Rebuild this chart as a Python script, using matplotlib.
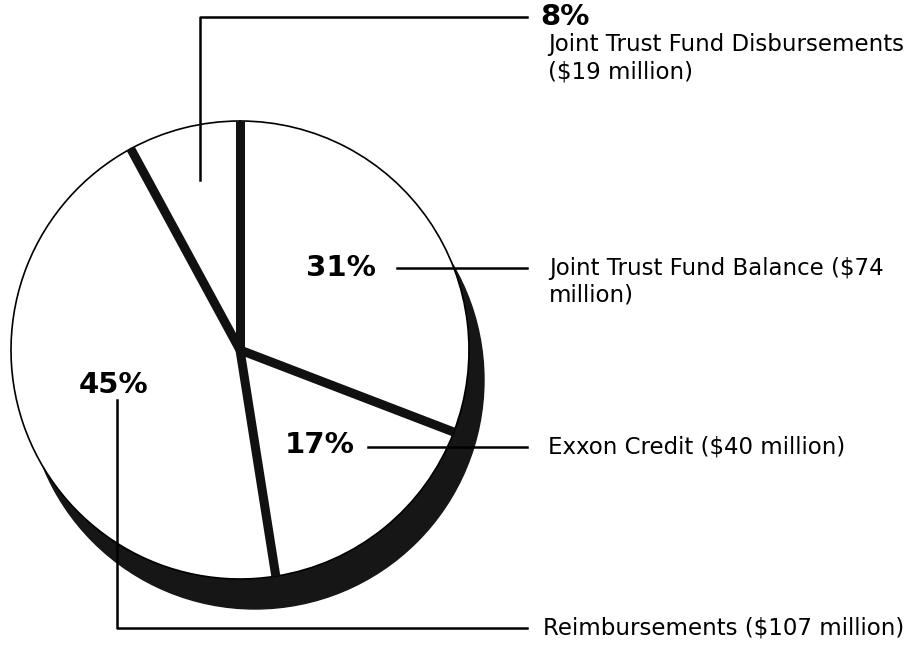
import numpy as np
import matplotlib.pyplot as plt
from matplotlib.patches import Circle

# values in $ million, in clockwise order from the top
labels = ['Joint Trust Fund Balance', 'Exxon Credit', 'Reimbursements', 'Joint Trust Fund Disbursements']
amounts = [74, 40, 107, 19]
pcts = ['31%', '17%', '45%', '8%']

H = 657
plt.rcParams['font.family'] = ['DejaVu Sans']

fig = plt.figure(figsize=(9.15, 6.57), dpi=100)
ax = fig.add_axes([0, 0, 1, 1])
ax.set_xlim(0, 915)
ax.set_ylim(0, H)
ax.set_aspect('equal')
ax.axis('off')

cx, cy, r = 240, H - 350, 229

# depth band of the tilted pie
ax.add_patch(Circle((cx + 15, cy - 30), r, facecolor='#161616', edgecolor='#161616', zorder=1))

wedges, _ = ax.pie(amounts, center=(cx, cy), radius=r, startangle=90, counterclock=False,
                   colors=['white'] * 4,
                   wedgeprops=dict(edgecolor='black', linewidth=1.2))
for w in wedges:
    w.set_zorder(2)
ax.set_xlim(0, 915)
ax.set_ylim(0, H)

# thick separators between slices
for w in wedges:
    a = np.deg2rad(w.theta1)
    ax.plot([cx, cx + r * np.cos(a)], [cy, cy + r * np.sin(a)], color='#111111',
            lw=6.5, solid_capstyle='butt', zorder=3)

pct_kw = dict(fontsize=21, fontweight='bold', zorder=5)
txt_kw = dict(fontsize=16.5, zorder=5)
line_kw = dict(color='black', lw=1.8, zorder=4)

# 8%
ax.plot([200, 200, 527], [H - 180, H - 17, H - 17], **line_kw)
ax.text(540, H - 17, pcts[3], va='center', ha='left', **pct_kw)
ax.text(548, H - 45, 'Joint Trust Fund Disbursements', va='center', ha='left', **txt_kw)
ax.text(548, H - 72, '($%d million)' % amounts[3], va='center', ha='left', **txt_kw)

# 31%
ax.text(341, H - 268, pcts[0], va='center', ha='center', **pct_kw)
ax.plot([397, 527], [H - 268, H - 268], **line_kw)
ax.text(549, H - 268, 'Joint Trust Fund Balance ($%d' % amounts[0], va='center', ha='left', **txt_kw)
ax.text(549, H - 295, 'million)', va='center', ha='left', **txt_kw)

# 17%
ax.text(320, H - 445, pcts[1], va='center', ha='center', **pct_kw)
ax.plot([368, 527], [H - 447, H - 447], **line_kw)
ax.text(548, H - 447, 'Exxon Credit ($%d million)' % amounts[1], va='center', ha='left', **txt_kw)

# 45%
ax.text(114, H - 385, pcts[2], va='center', ha='center', **pct_kw)
ax.plot([117, 117, 527], [H - 400, H - 628, H - 628], **line_kw)
ax.text(543, H - 628, 'Reimbursements ($%d million)' % amounts[2], va='center', ha='left', **txt_kw)

fig.savefig('out.png', dpi=100)
